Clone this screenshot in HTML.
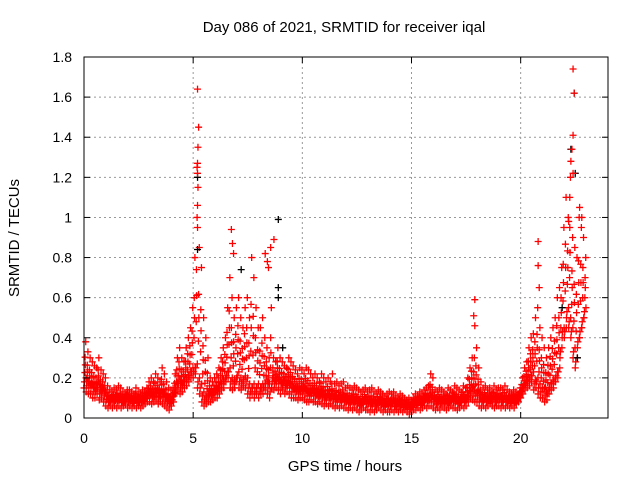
<!DOCTYPE html>
<html><head><meta charset="utf-8"><style>
body{margin:0;background:#fff}
svg{display:block;font-family:"Liberation Sans",sans-serif}
</style></head><body>
<svg id="chart" width="640" height="480">
<text x="344" y="32" text-anchor="middle" font-size="15">Day 086 of 2021, SRMTID for receiver iqal</text>
<text x="345" y="471" text-anchor="middle" font-size="15">GPS time / hours</text>
<text transform="translate(19,238) rotate(-90)" text-anchor="middle" font-size="15">SRMTID / TECUs</text>
<g id="grid"></g><g id="marks"></g>
<rect x="84" y="57" width="524" height="361" fill="none" stroke="#000" stroke-width="1"/>
<g id="ticks"></g>
</svg>
<script>
const xTicks=[0,5,10,15,20];
const yTicks=[0,0.2,0.4,0.6,0.8,1,1.2,1.4,1.6,1.8];
const yTickLabels=["0","0.2","0.4","0.6","0.8","1","1.2","1.4","1.6","1.8"];
const upper=[.38,.33,.30,.28,.26,.25,.30,.24,.22,.20, .16,.14,.13,.15,.14,.16,.15,.13,.12,.14, .14,.13,.12,.15,.13,.12,.14,.13,.15,.18, .20,.18,.22,.20,.18,.25,.22,.18,.15,.14, .15,.22,.30,.35,.30,.28,.35,.40,.45,.55, .80,1.0,.85,.75,.50,.40,.30,.20,.18,.20, .22,.25,.30,.35,.40,.55,.70,.60,.50,.55, .60,.50,.45,.55,.60,.50,.80,.70,.55,.45, .45,.50,.40,.35,.30,.55,.30,.28,.35,.30, .28,.26,.25,.30,.28,.26,.24,.22,.25,.24, .22,.25,.24,.22,.20,.22,.20,.18,.22,.20, .18,.20,.18,.22,.17,.18,.16,.17,.18,.15, .16,.15,.14,.16,.15,.14,.13,.14,.15,.13, .14,.15,.13,.12,.14,.13,.12,.11,.12,.13, .12,.13,.11,.10,.12,.11,.10,.09,.10,.09, .10,.12,.11,.13,.12,.14,.15,.16,.22,.20, .14,.13,.15,.14,.13,.12,.15,.14,.13,.16, .15,.14,.13,.16,.15,.20,.25,.30,.30,.35, .25,.18,.15,.16,.14,.15,.13,.16,.14,.15, .15,.14,.16,.14,.13,.12,.14,.13,.12,.15, .20,.25,.28,.35,.40,.42,.50,.55,.45,.40, .35,.30,.35,.40,.45,.50,.60,.65,.75,.95, 1.1,1.0,1.2,.90,.85,.80,1.0,.95,.90,.80];
const lower=[.15,.13,.12,.12,.10,.10,.12,.09,.10,.08, .06,.05,.06,.05,.06,.05,.06,.05,.06,.07, .05,.06,.05,.06,.05,.06,.05,.06,.07,.08, .08,.07,.08,.09,.07,.08,.07,.06,.05,.04, .06,.08,.12,.14,.12,.13,.15,.16,.18,.20, .20,.22,.15,.12,.08,.06,.07,.08,.08,.09, .10,.10,.12,.14,.15,.18,.20,.15,.14,.15, .18,.15,.14,.16,.15,.12,.10,.12,.10,.12, .10,.12,.12,.14,.12,.10,.15,.14,.15,.14, .12,.14,.12,.13,.12,.10,.10,.10,.09,.10, .10,.09,.08,.08,.09,.08,.08,.07,.08,.07, .06,.07,.06,.07,.06,.05,.06,.05,.06,.05, .05,.04,.05,.04,.05,.04,.03,.04,.05,.04, .04,.03,.04,.03,.04,.05,.04,.03,.04,.03, .03,.04,.03,.04,.03,.04,.03,.04,.03,.02, .03,.04,.04,.05,.04,.05,.06,.05,.06,.06, .05,.04,.05,.04,.06,.05,.04,.05,.06,.05, .05,.04,.05,.06,.05,.06,.08,.10,.09,.08, .08,.06,.05,.06,.05,.06,.07,.06,.05,.06, .06,.05,.06,.05,.06,.05,.06,.05,.07,.08, .10,.12,.14,.15,.16,.18,.14,.15,.12,.10, .10,.08,.09,.12,.14,.15,.18,.20,.30,.40, .40,.50,.45,.40,.30,.25,.35,.40,.45,.50];
const spikeT=[5.2,5.25,5.22,5.2,5.18,5.2,5.22,5.2,5.2,6.75,6.8,6.85,8.7,8.55,8.3,8.4,8.45,17.9,17.85,17.9,20.8,20.8,20.85,22.4,22.45,22.4,22.35,22.3,22.4,22.25,22.7,22.8,22.2];
const spikeV=[1.64,1.45,1.35,1.27,1.25,1.22,1.15,1.06,0.95,0.94,0.87,0.82,0.89,0.85,0.82,0.78,0.75,0.59,0.51,0.46,0.88,0.76,0.65,1.74,1.62,1.41,1.34,1.28,1.22,1.10,1.05,1.00,0.98];
const blackT=[5.2,5.2,8.9,8.9,8.9,22.3,22.45,22.5,7.2,9.1,21.9,22.6];
const blackV=[1.20,0.84,0.99,0.65,0.60,1.34,1.62,1.22,0.74,0.35,0.55,0.30];
const X=t=>84+t*524/24, Y=v=>418-v*361/1.8;
const NS="http://www.w3.org/2000/svg";
const grid=document.getElementById('grid'),ticks=document.getElementById('ticks'),marks=document.getElementById('marks');
function mk(tag,attrs,parent){const e=document.createElementNS(NS,tag);for(const k in attrs)e.setAttribute(k,attrs[k]);parent.appendChild(e);return e;}
xTicks.forEach(t=>{
 if(t>0){const g=mk('line',{x1:X(t),x2:X(t),y1:57,y2:418,stroke:'#999','stroke-dasharray':'2,3'},grid);
 
 }
 mk('line',{x1:X(t),x2:X(t),y1:418,y2:412,stroke:'#000'},ticks);
 mk('line',{x1:X(t),x2:X(t),y1:57,y2:63,stroke:'#000'},ticks);
 const l=mk('text',{x:X(t),y:443,'text-anchor':'middle','font-size':14},ticks);l.textContent=t;
 
 
});
yTicks.forEach((v,i)=>{
 if(v>0&&v<1.8){const g=mk('line',{x1:84,x2:608,y1:Y(v),y2:Y(v),stroke:'#999','stroke-dasharray':'2,3'},grid);
 
 }
 mk('line',{x1:84,x2:90,y1:Y(v),y2:Y(v),stroke:'#000'},ticks);
 mk('line',{x1:608,x2:602,y1:Y(v),y2:Y(v),stroke:'#000'},ticks);
 const l=mk('text',{x:72,y:Y(v)+5,'text-anchor':'end','font-size':14},ticks);l.textContent=yTickLabels[i];
 
 
});
function plus(t,v,c){const x=X(t),y=Y(v);
 const p=mk('path',{d:`M${x-3.5},${y}H${x+3.5}M${x},${y-3.5}V${y+3.5}`,stroke:c,'stroke-width':1.3,fill:'none'},marks);
 
 
}
upper.forEach((u,i)=>{const lo=lower[i],t=i*0.1;
 plus(t,lo,'#f00');plus(t+0.02,lo+0.03,'#f00');plus(t+0.04,(2*lo+u)/3,'#f00');
 plus(t+0.06,(lo+u)/2,'#f00');plus(t+0.08,u,'#f00');plus(t+0.09,lo+0.05,'#f00');
 plus(t+0.05,(lo+2*u)/3,'#f00');
});
blackT.forEach((t,i)=>plus(t,blackV[i],'#000'));
spikeT.forEach((t,i)=>plus(t,spikeV[i],'#f00'));
</script>
</body></html>
